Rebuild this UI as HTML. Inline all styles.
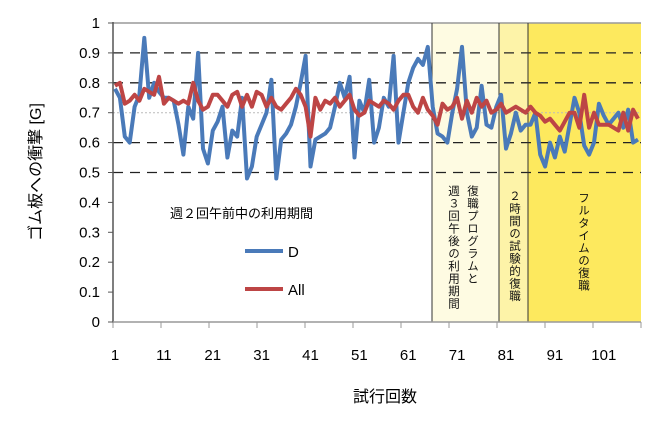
<!DOCTYPE html>
<html><head><meta charset="utf-8"><style>
body{margin:0;background:#fff}
svg{display:block;font-family:"Liberation Sans","Noto Sans CJK JP",sans-serif}
.v{writing-mode:vertical-rl;position:absolute;font-family:"Liberation Sans","Noto Sans CJK JP",sans-serif;font-size:11.5px;color:#111;line-height:15px;letter-spacing:1px}
</style></head><body>
<div style="position:relative;width:665px;height:435px">
<svg id="s" width="665" height="435" viewBox="0 0 665 435">
<rect x="432" y="23" width="67" height="299" fill="#fefbe2"/>
<rect x="499" y="23" width="29" height="299" fill="#fdf3a8"/>
<rect x="528" y="23" width="113" height="299" fill="#fde95e"/>
<g id="grid"></g>
<line x1="113" y1="23" x2="641" y2="23" stroke="#999" stroke-width="1.5"/>
<line x1="432" y1="23" x2="432" y2="322" stroke="#333"/>
<line x1="499" y1="23" x2="499" y2="322" stroke="#333"/>
<line x1="528" y1="23" x2="528" y2="322" stroke="#333"/>
<line x1="113" y1="22" x2="113" y2="323" stroke="#555" stroke-width="1.5"/>
<line x1="113" y1="322" x2="641" y2="322" stroke="#999" stroke-width="1.5"/>
<g id="ticks"></g>
<polyline id="d" fill="none" stroke="#4a7ab9" stroke-width="4" stroke-linejoin="round"/>
<polyline id="a" fill="none" stroke="#bd4545" stroke-width="4" stroke-linejoin="round"/>
<text x="170" y="218" font-size="13">週２回午前中の利用期間</text>
<line x1="245" y1="251" x2="283" y2="251" stroke="#4a7ab9" stroke-width="4"/>
<text x="288" y="257" font-size="15">D</text>
<line x1="245" y1="289" x2="283" y2="289" stroke="#bd4545" stroke-width="4"/>
<text x="288" y="295" font-size="15">All</text>
<text x="385" y="402" font-size="16" text-anchor="middle">試行回数</text>
<text transform="translate(41,172) rotate(-90)" font-size="16" text-anchor="middle">ゴム板への衝撃 [G]</text>
</svg>
<div class="v" style="left:464px;top:185px">復職プログラムと</div>
<div class="v" style="left:445px;top:185px">週３回午後の利用期間</div>
<div class="v" style="left:506px;top:190px">２時間の試験的復職</div>
<div class="v" style="left:575px;top:192px">フルタイムの復職</div>
</div>
<script>
var D=[0.78,0.75,0.62,0.60,0.72,0.76,0.95,0.75,0.80,0.77,0.75,0.75,0.74,0.66,0.56,0.72,0.68,0.90,0.58,0.53,0.64,0.67,0.72,0.55,0.64,0.62,0.75,0.48,0.52,0.62,0.66,0.70,0.81,0.48,0.61,0.63,0.66,0.72,0.80,0.89,0.52,0.61,0.62,0.63,0.65,0.72,0.80,0.75,0.82,0.55,0.74,0.70,0.81,0.60,0.65,0.75,0.72,0.89,0.60,0.70,0.80,0.85,0.88,0.86,0.92,0.72,0.63,0.62,0.60,0.70,0.78,0.92,0.70,0.62,0.65,0.79,0.66,0.65,0.72,0.76,0.58,0.63,0.70,0.64,0.66,0.66,0.70,0.56,0.52,0.60,0.55,0.62,0.57,0.66,0.75,0.70,0.59,0.56,0.60,0.73,0.69,0.66,0.68,0.70,0.65,0.71,0.60,0.61];
var A=[0.79,0.80,0.73,0.74,0.76,0.74,0.78,0.77,0.76,0.82,0.73,0.75,0.74,0.73,0.74,0.73,0.80,0.74,0.71,0.72,0.76,0.76,0.74,0.72,0.76,0.77,0.72,0.76,0.72,0.77,0.76,0.72,0.75,0.72,0.71,0.73,0.75,0.78,0.76,0.72,0.62,0.75,0.71,0.74,0.73,0.75,0.72,0.74,0.76,0.71,0.69,0.70,0.74,0.73,0.72,0.74,0.73,0.71,0.74,0.76,0.76,0.72,0.70,0.75,0.71,0.69,0.66,0.73,0.71,0.72,0.75,0.68,0.74,0.70,0.75,0.72,0.74,0.70,0.71,0.73,0.70,0.71,0.72,0.71,0.70,0.72,0.70,0.69,0.67,0.68,0.66,0.64,0.67,0.70,0.70,0.65,0.76,0.65,0.70,0.66,0.66,0.66,0.65,0.64,0.70,0.64,0.71,0.68];
var N='http://www.w3.org/2000/svg';
function X(i){return 115+i*(523/(D.length-1));}
function Y(v){return 322-v*299;}
function pts(a){return a.map(function(v,i){return X(i).toFixed(1)+','+Y(v).toFixed(1)}).join(' ');}
document.getElementById('d').setAttribute('points',pts(D));
document.getElementById('a').setAttribute('points',pts(A));
var g=document.getElementById('grid'),t=document.getElementById('ticks'),s=document.getElementById('s');
function el(p,n,at,tx){var e=document.createElementNS(N,n);for(var k in at)e.setAttribute(k,at[k]);if(tx)e.textContent=tx;p.appendChild(e);return e;}
[0.5,0.6,0.8,0.9].forEach(function(v){el(g,'line',{x1:113,x2:641,y1:Y(v),y2:Y(v),stroke:'#222','stroke-dasharray':'10,7','stroke-width':1.3});});
el(g,'line',{x1:113,x2:641,y1:Y(0.7),y2:Y(0.7),stroke:'#bbb','stroke-dasharray':'2,2'});
for(var k=0;k<=10;k++){var v=k/10,y=Y(v);el(t,'line',{x1:108,x2:113,y1:y,y2:y,stroke:'#555'});
el(s,'text',{x:100,y:y+5,'font-size':15,'text-anchor':'end'},k==0?'0':k==10?'1':v.toFixed(1));}
for(var i=0;i<11;i++){var n=1+i*10,x=X(n-1);el(s,'text',{x:x,y:360,'font-size':15,'text-anchor':'middle'},String(n));}
for(var j=0;j<=11;j++){var x=113+j*48;el(t,'line',{x1:x,x2:x,y1:322,y2:328,stroke:'#999'});}
</script>
</body></html>
